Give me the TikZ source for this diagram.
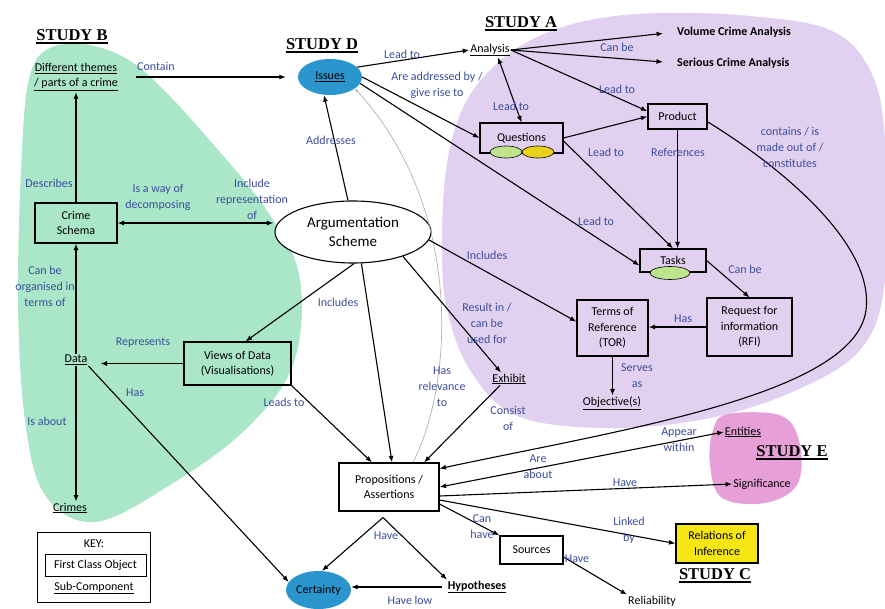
\documentclass[tikz,border=0pt]{standalone}
\usepackage{fontspec}
\setmainfont{Carlito}
\newfontfamily\studyfont{Liberation Serif}
\usepackage{xcolor}
\usepackage{tikz}
\usetikzlibrary{shapes.geometric, arrows.meta}
\definecolor{lblblue}{HTML}{3C4E9C}
\definecolor{studybgreen}{HTML}{AAE6C8}
\definecolor{studyapurple}{HTML}{E2D0F0}
\definecolor{studyepink}{HTML}{E6A0D7}
\definecolor{issuesblue}{HTML}{2A96CD}
\definecolor{qgreen}{HTML}{BEE48C}
\definecolor{qyellow}{HTML}{EBD21E}
\definecolor{relyellow}{HTML}{F5E614}
\newcommand{\studyhead}[1]{\vbox{\hbox{#1}\kern1.5pt\hrule height 1.6pt}}

\begin{document}
\begin{tikzpicture}[x=1pt, y=-1pt, font=\fontsize{12}{15.5}\selectfont,
  arr/.style={-{Latex[length=6.5pt,width=5pt]}, line width=1.1pt},
  darr/.style={{Latex[length=6.5pt,width=5pt]}-{Latex[length=6.5pt,width=5pt]}, line width=1.1pt},
  relarr/.style={-{Latex[length=4pt,width=3pt]}, gray!60, line width=0.7pt},
  lbl/.style={text=lblblue, align=center, inner sep=0pt, font=\fontsize{12}{16}\selectfont},
  box/.style={draw, line width=1.1pt, align=center, inner sep=2pt},
  sub/.style={align=center, inner sep=1pt},
  blob/.style={ellipse, draw, line width=0.6pt, inner sep=0pt, minimum height=12pt},
  study/.style={font=\studyfont\bfseries\fontsize{16.5}{18}\selectfont, inner sep=0pt}]
  \useasboundingbox (0,0) rectangle (885,609);
  \fill[white] (0,0) rectangle (885,609);
  \fill[studybgreen] plot[smooth cycle, tension=0.6] coordinates {(18,300) (22,150) (30,75) (50,48) (90,45) (140,68) (205,135) (270,215) (300,280) (293,365) (245,430) (170,485) (95,522) (45,495) (25,420)};
  \fill[studyapurple] plot[smooth cycle, tension=0.6] coordinates {(442,250) (446,170) (462,110) (492,68) (535,38) (590,20) (660,13) (750,16) (830,30) (870,70) (885,140) (885,280) (860,350) (790,393) (700,420) (600,428) (515,415) (470,370) (447,310)};
  \fill[studyepink] plot[smooth cycle, tension=0.6] coordinates {(728,414) (782,416) (800,445) (797,485) (765,503) (722,498) (710,465) (713,430)};

  \node[study] (studyb) at (72,37) {\studyhead{STUDY B}};
  \node[study] (studyd) at (322,46) {\studyhead{STUDY D}};
  \node[study] (studya) at (521,24) {\studyhead{STUDY A}};
  \node[study] (studye) at (792,453) {\studyhead{STUDY E}};
  \node[study] (studyc) at (715,576) {\studyhead{STUDY C}};

  \node[sub] (themes) at (76,77) {\underline{Different themes}\\\underline{/ parts of a crime}};
  \node[box, minimum width=82pt, minimum height=40pt] (schema) at (76,223) {Crime\\Schema};
  \node[sub] (data) at (76,360) {\underline{Data}};
  \node[sub] (crimes) at (70,508) {\underline{Crimes}};
  \node[ellipse, fill=issuesblue, minimum width=64pt, minimum height=36pt, inner sep=0pt] (issues) at (330,77) {\underline{Issues}};
  \node[ellipse, draw, fill=white, line width=1.1pt, minimum width=156pt, minimum height=62pt, inner sep=0pt, align=center, font=\fontsize{15}{19}\selectfont] (args) at (353,232) {Argumentation\\Scheme};
  \node[sub] (analysis) at (490,50) {\underline{Analysis}};
  \node[sub, anchor=west, font=\bfseries\fontsize{12}{15.5}\selectfont] (volume) at (676,32) {Volume Crime Analysis};
  \node[sub, anchor=west, font=\bfseries\fontsize{12}{15.5}\selectfont] (serious) at (676,63) {Serious Crime Analysis};
  \node[box, minimum width=83pt, minimum height=30pt] (questions) at (521.5,138) {Questions};
  \node[blob, fill=qgreen, minimum width=32pt] (qgreenblob) at (506,152) {};
  \node[blob, fill=qyellow, minimum width=32pt] (qyellowblob) at (538,152) {};
  \node[box, minimum width=59pt, minimum height=25pt] (product) at (677.5,116.5) {Product};
  \node[box, minimum width=66pt, minimum height=23pt] (tasks) at (673,260.5) {Tasks};
  \node[blob, fill=qgreen, minimum width=40pt, minimum height=13pt] (tgreenblob) at (670,273) {};
  \node[box, minimum width=85pt, minimum height=58pt] (rfi) at (749.5,327) {Request for\\information\\(RFI)};
  \node[box, minimum width=71pt, minimum height=56pt] (tor) at (612.5,328) {Terms of\\Reference\\(TOR)};
  \node[sub] (objective) at (612,403) {\underline{Objective(s)}};
  \node[sub] (exhibit) at (509,379) {\underline{Exhibit}};
  \node[box, minimum width=107pt, minimum height=43pt] (views) at (237.5,363.5) {Views of Data\\(Visualisations)};
  \node[box, fill=white, minimum width=100pt, minimum height=48pt] (props) at (389,487) {Propositions /\\Assertions};
  \node[box, minimum width=63pt, minimum height=28pt] (sources) at (531.5,550) {Sources};
  \node[ellipse, fill=issuesblue, minimum width=65pt, minimum height=38pt, inner sep=0pt] (certainty) at (318.5,590) {Certainty};
  \node[sub, font=\bfseries\fontsize{12}{15.5}\selectfont] (hypotheses) at (477,587) {\underline{Hypotheses}};
  \node[sub] (reliability) at (652,601) {Reliability};
  \node[sub] (entities) at (743,432) {\underline{Entities}};
  \node[sub] (significance) at (762,484) {Significance};
  \node[box, fill=relyellow, minimum width=82pt, minimum height=39pt] (relations) at (717,543.5) {Relations of\\Inference};

  \node[draw, line width=0.9pt, minimum width=113pt, minimum height=70pt] (keybox) at (93.5,567) {};
  \node[sub] (keytitle) at (94,544) {KEY:};
  \node[draw, line width=0.9pt, minimum width=101pt, minimum height=22pt, inner sep=1pt] (keyfco) at (95.5,565) {First Class Object};
  \node[sub] (keysub) at (94,588) {\underline{Sub-Component}};

  \draw[arr, shorten <=17pt, shorten >=12pt] (themes.east) -- (themes.east -| issues.west);
  \draw[arr] (schema) -- (themes);
  \draw[darr, shorten >=1pt] (schema.east) -- (schema.east -| args.west);
  \draw[arr] (data) -- (schema);
  \draw[arr] (data) -- (data |- crimes.north);
  \draw[arr, shorten >=12pt] (views.west) -- (views.west -| data.east);
  \draw[arr] (data.south east) -- (certainty.165);
  \draw[arr] ([xshift=-5pt]args.north) -- ([xshift=-6pt]issues.south);
  \draw[arr] (issues.20) -- (analysis.west);
  \draw[arr] (issues.east) -- (questions.west);
  \draw[arr] (issues.-12) -- ([yshift=-5pt]tasks.west);
  \draw[relarr] ([xshift=24pt]props.north) .. controls (455,380) and (462,205) .. (issues.-25);
  \draw[darr] ([xshift=8pt]analysis.south) -- (questions.north);
  \draw[arr, shorten >=13pt] (analysis.east) -- (volume.west);
  \draw[arr, shorten >=13pt] (analysis.east) -- (serious.west);
  \draw[arr] (analysis.east) -- (product.170);
  \draw[arr] (questions.east) -- (product.west);
  \draw[arr] ([yshift=-3pt]questions.east) -- (tasks.north);
  \draw[arr] (product) -- (product |- tasks.north);
  \draw[arr] (product.-10) .. controls (770,160) and (875,240) .. (866,310) .. controls (855,395) and (620,430) .. (props.20);
  \draw[arr] (tasks.east) -- (rfi.north);
  \draw[arr] (rfi.west) -- (rfi.west -| tor.east);
  \draw[arr] (tor) -- (tor |- objective.north);
  \draw[arr] (args.-6) -- (tor.170);
  \draw[arr] (args.-26) -- ([xshift=-8pt]exhibit.north);
  \draw[arr] ([xshift=-9pt]exhibit.south) -- ([xshift=35pt]props.north);
  \draw[arr] (args.-75) -- ([xshift=3pt]props.north);
  \draw[arr] (args.-88) -- ([xshift=8pt]views.north);
  \draw[arr] (views.south east) -- ([xshift=-17pt]props.north);
  \draw[darr] (props.east) -- (entities.west);
  \draw[arr] ([yshift=-9pt]props.east) -- (significance.west);
  \draw[arr] ([yshift=-13pt]props.east) -- (relations.west);
  \draw[arr] ([yshift=-17pt]props.east) -- (sources.north west);
  \draw[arr] ([yshift=-7pt]sources.east) -- (reliability.north west);
  \draw[arr] ([shift={(-6pt,-6pt)}]props.south) -- (certainty.80);
  \draw[arr] ([shift={(-6pt,-6pt)}]props.south) -- ([xshift=-30pt]hypotheses.north);
  \draw[arr, shorten <=5pt] (hypotheses.west) -- (hypotheses.west -| certainty.east);

  \node[lbl] (lcontain) at (156,66) {Contain};
  \node[lbl] (ldescribes) at (49,183) {Describes};
  \node[lbl] (ldecomp) at (158,197) {Is a way of\\decomposing};
  \node[lbl] (linclrep) at (252,199) {Include\\representation\\of};
  \node[lbl] (lorganised) at (45,286) {Can be\\organised in\\terms of};
  \node[lbl] (lisabout) at (47,421) {Is about};
  \node[lbl] (lrepresents) at (143,343) {Represents};
  \node[lbl] (ldatahas) at (135,393) {Has};
  \node[lbl] (lleadsto) at (284,402) {Leads to};
  \node[lbl] (laddresses) at (331,140) {Addresses};
  \node[lbl] (lissuesan) at (402,54) {Lead to};
  \node[lbl] (laddressed) at (437,85) {Are addressed by /\\give rise to};
  \node[lbl] (lanq) at (511,106) {Lead to};
  \node[lbl] (lcanbe) at (617,47) {Can be};
  \node[lbl] (lanprod) at (617,89) {Lead to};
  \node[lbl] (lqtasks) at (606,152) {Lead to};
  \node[lbl] (lrefs) at (678,152) {References};
  \node[lbl] (listasks) at (596,221) {Lead to};
  \node[lbl] (lcontains) at (790,147) {contains / is\\made out of /\\constitutes};
  \node[lbl] (lincltor) at (487,255) {Includes};
  \node[lbl] (ltaskcan) at (745,269) {Can be};
  \node[lbl] (lrfihas) at (683,319) {Has};
  \node[lbl] (lserves) at (637,376) {Serves\\as};
  \node[lbl] (linclviews) at (338,302) {Includes};
  \node[lbl] (lresult) at (487,323) {Result in /\\can be\\used for};
  \node[lbl] (lrelevance) at (442,387) {Has\\relevance\\to};
  \node[lbl] (lconsist) at (508,418) {Consist\\of};
  \node[lbl] (lappear) at (679,440) {Appear\\within};
  \node[lbl] (lareabout) at (538,467) {Are\\about};
  \node[lbl] (lsignif) at (625,483) {Have};
  \node[lbl] (llinked) at (629,530) {Linked\\by};
  \node[lbl] (lcanhave) at (482,527) {Can\\have};
  \node[lbl] (lsrchave) at (577,559) {Have};
  \node[lbl] (lpropshave) at (386,536) {Have};
  \node[lbl] (lhavelow) at (410,600) {Have low};
\end{tikzpicture}
\end{document}
